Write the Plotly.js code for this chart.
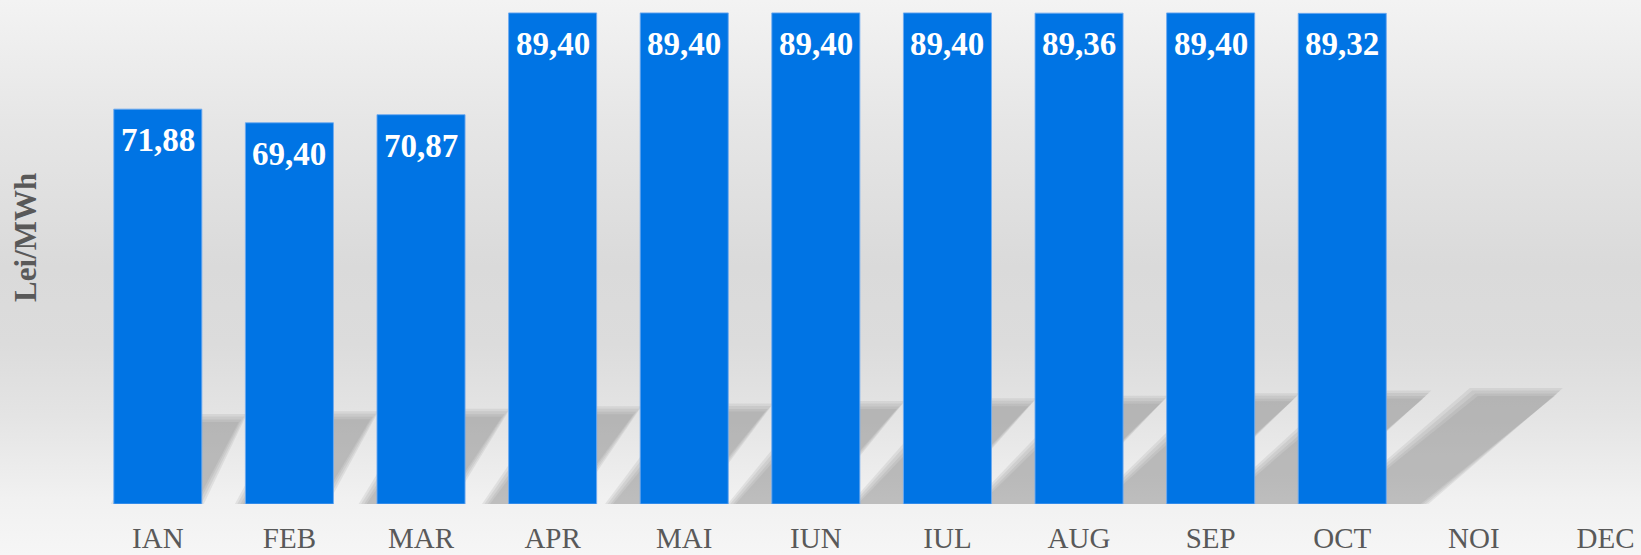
<!DOCTYPE html>
<html>
<head>
<meta charset="utf-8">
<script src="https://cdn.plot.ly/plotly-3.0.1.min.js"></script>
<style>
  html, body { margin: 0; padding: 0; }
  #chart {
    width: 1641px;
    height: 555px;
    background: linear-gradient(to bottom, #f3f3f3 0%, #e6e6e6 22%, #dadada 48%, #dcdcdc 62%, #e4e4e4 75%, #f1f1f1 90%, #f6f6f6 100%);
  }
</style>
</head>
<body>
<div id="chart"></div>
<script>
// preturi lunare (Lei/MWh)
const months = ['IAN', 'FEB', 'MAR', 'APR', 'MAI', 'IUN', 'IUL', 'AUG', 'SEP', 'OCT', 'NOI', 'DEC'];
const prices = [71.88, 69.40, 70.87, 89.40, 89.40, 89.40, 89.40, 89.36, 89.40, 89.32, null, null];
const yTitle = 'Lei/MWh';

const serif = 'Liberation Serif, Times New Roman, serif';
const fmt = v => v.toFixed(2).replace('.', ',');

const trace = {
    x: months,
    y: prices,
    type: 'bar',
    marker: { color: '#0074e4', line: { color: 'rgba(110,170,240,0.9)', width: 1 } },
    hoverinfo: 'x+y'
};

// etichete cu valori, in interiorul barelor
const labels = [];
months.forEach((m, i) => {
    if (prices[i] == null) return;
    labels.push({
        x: m, y: prices[i], xref: 'x', yref: 'y',
        text: fmt(prices[i]),
        showarrow: false,
        yanchor: 'top', yshift: -11,
        font: { family: serif, size: 33, color: '#ffffff', weight: 'bold' }
    });
});

labels.push({
    xref: 'paper', yref: 'paper', x: 0, y: 0.528, xshift: -66,
    xanchor: 'center', yanchor: 'middle',
    text: yTitle, textangle: -90, showarrow: false,
    font: { family: serif, size: 31, color: '#595959', weight: 'bold' }
});

// umbre decorative in spatele barelor (fara DEC), cateva straturi suprapuse ca sa para estompate
const pxX = 131.6, pxY = 5.49;
const shadows = [];
months.slice(0, 11).forEach((m, i) => {
    const h = 86 + 2.6 * i;
    const k = 0.5 + 0.07 * i;
    [-4, -1.5, 1.5, 4].forEach(e => {
        const top = (h + e) / pxY;
        const tl = i - e / pxX, tr = i + (85 + e) / pxX;
        const bl = tl - k * h / pxX, br = tr - k * h / pxX;
        shadows.push({
            type: 'path', xref: 'x', yref: 'y', layer: 'below',
            path: `M ${bl} 0 L ${br} 0 L ${tr} ${top} L ${tl} ${top} Z`,
            fillcolor: 'rgba(128,128,128,0.14)',
            line: { width: 0 }
        });
    });
});

const layout = {
    width: 1641,
    height: 555,
    margin: { l: 92, r: 0, t: 0, b: 51 },
    paper_bgcolor: 'rgba(0,0,0,0)',
    plot_bgcolor: 'rgba(0,0,0,0)',
    separators: ',.',
    showlegend: false,
    bargap: 0.331,
    xaxis: {
        type: 'category',
        range: [-0.5, 11.27],
        showgrid: false, zeroline: false, showline: false, ticks: '',
        ticklabelstandoff: 14,
        tickfont: { family: serif, size: 29, color: '#595959' }
    },
    yaxis: {
        range: [0, 91.75],
        showgrid: false, zeroline: false, showline: false,
        showticklabels: false, ticks: ''
    },
    shapes: shadows,
    annotations: labels
};

Plotly.newPlot('chart', [trace], layout, { displayModeBar: false, staticPlot: true });
</script>
</body>
</html>
